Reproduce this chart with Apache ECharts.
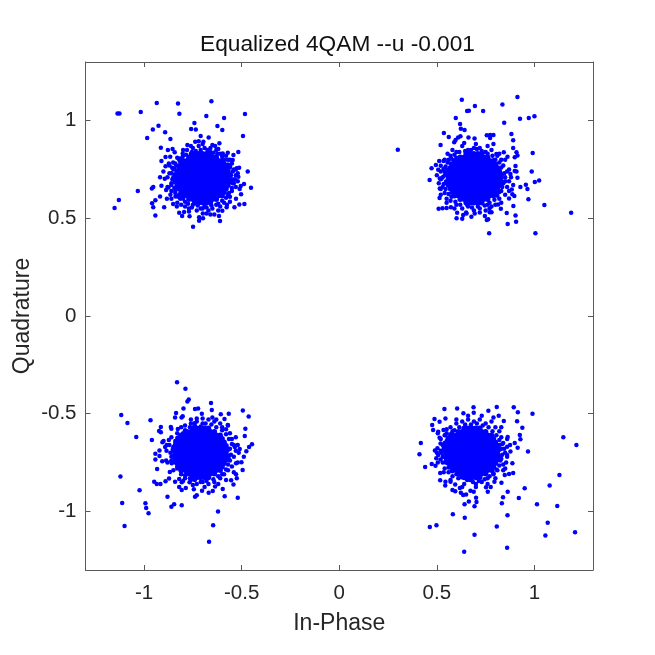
<!DOCTYPE html>
<html><head><meta charset="utf-8">
<style>html,body{margin:0;padding:0;background:#fff}#c{width:655px;height:655px}</style>
<script src="https://cdn.jsdelivr.net/npm/echarts@6/dist/echarts.min.js"></script>
</head><body><div id="c"></div>
<script>
const titleText = 'Equalized 4QAM --u -0.001';
const xName = 'In-Phase';
const yName = 'Quadrature';
const tickValues = [-1, -0.5, 0, 0.5, 1];
const axisLimit = 1.3;

// Individually visible points.
const topLeftPoints = [[-1.136,1.037],[-1.126,1.036],[-1.017,1.044],[-.935,1.09],[-.826,1.087],[-.819,1.035],[-.655,1.099],[-.681,1.024],[-.59,1.013],[-.483,1.034],[-.742,.988],[-.759,.957],[-.735,.955],[-.624,.972],[-.599,.952],[-.926,.974],[-.955,.954],[-.892,.94],[-.984,.911],[-.865,.906],[-.71,.921],[-.669,.914],[-.493,.921],[-.914,.861],[-.878,.85],[-.854,.855],[-.843,.838],[-.89,.814],[-.866,.815],[-.911,.793],[-.873,.78],[-.851,.785],[-.89,.766],[-.856,.759],[-.901,.74],[-.469,.739],[-.918,.71],[-.894,.703],[-.452,.657],[-1.032,.64],[-.96,.653],[-.953,.66],[-.911,.667],[-1.129,.594],[-1.151,.553],[-.959,.577],[-.953,.556],[-.942,.592],[-.897,.556],[-.942,.515],[-.918,.611],[-.883,.6],[-.749,.457],[-.718,.505],[-.718,.488],[-.698,.5],[-.611,.486],[-.616,.512],[-.64,.52],[-.66,.52],[-.699,.524],[-.767,.51],[-.805,.512],[-.82,.529],[-.795,.532],[-.832,.56],[-.851,.573],[-.839,.611],[-.865,.621],[-.887,.645],[-.875,.658],[-.537,.556],[-.512,.571],[-.486,.573],[-.577,.556],[-.599,.539],[-.503,.623],[-.529,.6],[-.488,.676],[-.505,.665],[-.517,.713],[-.513,.759],[-.525,.756],[-.517,.839],[-.542,.824],[-.546,.798],[-.571,.836],[-.597,.832],[-.614,.884],[-.636,.87],[-.696,.892],[-.738,.892],[-.778,.875],[-.802,.832],[-.824,.807],[-.815,.773],
[-.78,.85],[-.75,.86],[-.72,.87],[-.69,.86],[-.66,.86],[-.63,.85],[-.7,.88],[-.76,.83],[-.66,.84],[-.61,.83],[-.57,.8],[-.55,.78],[-.54,.75],[-.53,.72],[-.55,.7],[-.54,.68],[-.53,.66],[-.55,.64],[-.56,.61],[-.57,.62],[-.52,.69],[-.56,.76],[-.59,.58],[-.61,.56],[-.63,.57],[-.65,.55],[-.67,.54],[-.69,.56],[-.71,.55],[-.73,.54],[-.75,.57],[-.77,.55],[-.79,.56],[-.8,.6],[-.82,.62],[-.84,.64],[-.83,.66],[-.86,.68],[-.85,.71],[-.87,.73],[-.85,.75],[-.84,.78],[-.82,.8],[-.8,.82],[-.83,.58],[-.86,.64],
[-.555,.72],[-.545,.74],[-.56,.765],[-.57,.775],[-.585,.8],[-.6,.815],[-.625,.83],[-.645,.835],[-.675,.85],[-.71,.85],[-.735,.845],[-.755,.84],[-.785,.825],[-.805,.81],[-.815,.79],[-.835,.77],[-.845,.755],[-.86,.73],[-.855,.7],[-.86,.67],[-.845,.655],[-.84,.63],[-.825,.61],[-.815,.6],[-.79,.585],[-.775,.575],[-.755,.555],[-.725,.565],[-.7,.55],[-.68,.555],[-.655,.565],[-.62,.575],[-.6,.59],[-.58,.605],[-.565,.63],[-.55,.655],[-.545,.68],[-.535,.7],[-.575,.57],[-.82,.765],
[-.53,.75],[-.52,.73],[-.56,.8],[-.58,.82],[-.62,.855],[-.65,.875],[-.72,.895],[-.76,.87],[-.8,.85],[-.83,.81],[-.87,.77],[-.88,.71],[-.88,.66],[-.86,.6],[-.81,.57],[-.77,.535],[-.68,.525],[-.62,.54],[-.56,.585],[-.51,.65]];

const topRightPoints = [[.3,.851],[.628,1.107],[.913,1.121],[.695,1.075],[.655,1.049],[.664,1.051],[.737,1.049],[.836,1.083],[.926,1.01],[.971,1.013],[1,1.022],[.597,1.013],[.845,.989],[.619,.983],[.623,.959],[.642,.952],[.536,.937],[.561,.916],[.519,.875],[.621,.92],[.609,.914],[.596,.901],[.589,.889],[.662,.913],[.693,.908],[.756,.925],[.773,.926],[.79,.926],[.773,.911],[.882,.931],[.891,.899],[.891,.86],[.79,.88],[.991,.834],[.908,.838],[.913,.822],[.899,.812],[.843,.838],[.805,.829],[.862,.815],[.555,.831],[.512,.793],[.534,.793],[.495,.773],[.52,.769],[.473,.756],[.507,.749],[.534,.752],[.463,.696],[.986,.74],[.903,.768],[.899,.742],[.908,.74],[.877,.727],[.913,.708],[1.024,.693],[1.002,.686],[.956,.672],[.928,.66],[.964,.65],[.969,.597],[1.051,.568],[1.188,.529],[.892,.563],[.897,.614],[.858,.527],[.903,.515],[.906,.483],[.863,.471],[1.005,.423],[.768,.423],[.756,.491],[.763,.495],[.746,.512],[.771,.531],[.78,.531],[.514,.604],[.509,.549],[.529,.551],[.55,.553],[.572,.556],[.601,.5],[.63,.498],[.652,.525],[.677,.508],[.694,.525],[.604,.529],[.635,.517],[.87,.602],[.887,.623],[.891,.67],[.884,.648],[.515,.653],[.524,.704],[.515,.704],[.828,.549],[.814,.571],
[.6,.84],[.63,.87],[.66,.85],[.69,.86],[.72,.86],[.75,.84],[.78,.85],[.81,.82],[.57,.82],[.6,.81],[.83,.8],[.84,.77],[.86,.74],[.85,.71],[.84,.68],[.86,.66],[.83,.64],[.85,.62],[.82,.6],[.8,.57],[.78,.56],[.75,.54],[.72,.55],[.69,.54],[.66,.56],[.63,.55],[.6,.57],[.57,.59],[.55,.6],[.54,.63],[.53,.66],[.55,.68],[.52,.7],[.54,.72],[.55,.75],[.57,.78],[.52,.65],[.56,.8],
[.54,.74],[.545,.765],[.555,.785],[.575,.805],[.59,.825],[.615,.84],[.645,.845],[.675,.85],[.705,.855],[.73,.845],[.76,.83],[.785,.82],[.8,.8],[.82,.785],[.83,.76],[.845,.73],[.83,.705],[.85,.69],[.835,.66],[.82,.635],[.81,.615],[.795,.595],[.77,.58],[.745,.565],[.71,.56],[.68,.555],[.655,.57],[.62,.57],[.595,.585],[.575,.61],[.56,.625],[.545,.65],[.535,.675],[.53,.71],[.52,.74],[.76,.57],
[.5,.72],[.51,.68],[.52,.62],[.55,.58],[.59,.55],[.65,.53],[.72,.53],[.77,.55],[.83,.58],[.87,.64],[.87,.69],[.87,.75],[.85,.8],[.82,.83],[.76,.87],[.7,.88],[.64,.885],[.58,.85],[.54,.8],[.88,.71]];

const bottomLeftPoints = [[-.831,-.339],[-.788,-.372],[-.778,-.437],[-.771,-.428],[-.657,-.445],[-.798,-.474],[-.739,-.476],[-.723,-.474],[-.836,-.496],[-.841,-.52],[-.802,-.513],[-.808,-.52],[-1.117,-.507],[-1.085,-.548],[-.967,-.534],[-.494,-.484],[-.464,-.515],[-.566,-.5],[-.607,-.503],[-.653,-.481],[-.704,-.5],[-.588,-.527],[-.481,-.577],[-.484,-.614],[-.571,-.558],[-.73,-.524],[-.742,-.549],[-.914,-.568],[-.923,-.589],[-.914,-.595],[-.863,-.568],[-.86,-.577],[-.827,-.578],[-1.04,-.619],[-.96,-.635],[-.9,-.64],[-.906,-.646],[-.873,-.635],[-.884,-.66],[-.892,-.67],[-.447,-.657],[-.462,-.67],[-.476,-.692],[-.489,-.72],[-.51,-.681],[-.501,-.749],[-.495,-.788],[-.529,-.754],[-.921,-.689],[-.942,-.705],[-.921,-.716],[-.942,-.735],[-.907,-.744],[-.887,-.739],[-.933,-.783],[-.868,-.798],[-.858,-.754],[-.861,-.742],[-1.121,-.822],[-.948,-.848],[-.935,-.86],[-.916,-.86],[-.872,-.832],[-.89,-.846],[-1.023,-.892],[-1.112,-.957],[-.993,-.959],[-.989,-.983],[-.977,-1.01],[-1.1,-1.075],[-.88,-.925],[-.86,-.976],[-.846,-.964],[-.807,-.969],[-.739,-.925],[-.73,-.918],[-.82,-.875],[-.807,-.89],[-.786,-.88],[-.841,-.848],[-.82,-.834],[-.807,-.851],[-.703,-.894],[-.669,-.904],[-.648,-.896],[-.745,-.887],[-.767,-.851],[-.597,-.885],[-.587,-.923],[-.52,-.93],[-.542,-.863],[-.554,-.841],[-.525,-.831],[-.529,-.81],[-.621,-1],[-.646,-1.071],[-.667,-1.155],[-.636,-.873],
[-.79,-.56],[-.76,-.55],[-.73,-.54],[-.7,-.55],[-.67,-.53],[-.64,-.54],[-.61,-.55],[-.58,-.58],[-.6,-.57],[-.65,-.52],[-.56,-.6],[-.55,-.63],[-.54,-.66],[-.53,-.69],[-.54,-.72],[-.56,-.74],[-.55,-.77],[-.57,-.79],[-.59,-.81],[-.61,-.83],[-.64,-.85],[-.67,-.86],[-.7,-.85],[-.73,-.86],[-.76,-.84],[-.79,-.83],[-.81,-.81],[-.83,-.78],[-.84,-.75],[-.86,-.72],[-.85,-.69],[-.87,-.66],[-.84,-.64],[-.82,-.62],[-.8,-.6],[-.83,-.6],
[-.56,-.68],[-.555,-.71],[-.565,-.735],[-.57,-.76],[-.58,-.785],[-.6,-.81],[-.62,-.82],[-.645,-.835],[-.68,-.845],[-.71,-.85],[-.74,-.84],[-.765,-.83],[-.79,-.815],[-.81,-.795],[-.83,-.77],[-.845,-.745],[-.85,-.715],[-.865,-.7],[-.85,-.67],[-.84,-.65],[-.83,-.625],[-.81,-.61],[-.79,-.585],[-.765,-.57],[-.74,-.56],[-.71,-.565],[-.685,-.55],[-.655,-.555],[-.63,-.57],[-.6,-.585],[-.58,-.605],[-.565,-.63],[-.55,-.655],[-.535,-.67],
[-.515,-.7],[-.52,-.75],[-.54,-.8],[-.58,-.84],[-.62,-.86],[-.69,-.875],[-.75,-.865],[-.8,-.845],[-.85,-.79],[-.88,-.75],[-.885,-.69],[-.86,-.62],[-.81,-.57],[-.76,-.53],[-.7,-.525],[-.63,-.53],[-.57,-.56],[-.53,-.62],[-.52,-.66]];

const bottomRightPoints = [[.539,-.476],[.604,-.473],[.688,-.467],[.807,-.466],[.894,-.467],[.915,-.493],[.99,-.5],[.764,-.485],[.689,-.495],[.636,-.498],[.817,-.51],[.488,-.527],[.544,-.525],[.514,-.541],[.476,-.558],[.481,-.583],[.843,-.537],[.911,-.539],[.938,-.572],[.507,-.592],[.505,-.6],[.534,-.583],[.925,-.609],[.928,-.631],[.863,-.619],[1.148,-.621],[1.215,-.66],[.418,-.65],[.411,-.708],[.44,-.773],[.474,-.757],[.493,-.766],[.967,-.693],[.914,-.674],[.899,-.65],[.514,-.623],[.519,-.653],[.49,-.689],[.503,-.677],[.507,-.711],[.524,-.699],[.497,-.728],[.519,-.734],[.517,-.803],[.517,-.841],[.544,-.848],[.543,-.868],[.57,-.848],[.594,-.863],[.58,-.89],[.594,-.897],[.618,-.88],[.623,-.904],[.635,-.916],[.65,-.914],[.672,-.894],[.689,-.899],[.642,-.964],[.664,-.95],[.693,-.974],[.703,-.952],[.701,-.93],[.582,-1.015],[.643,-1.032],[.464,-1.08],[.498,-1.071],[.693,-1.119],[.64,-1.206],[.807,-1.078],[.86,-1.186],[.862,-1.02],[.833,-.959],[.839,-.928],[.863,-.899],[.92,-.931],[.95,-.882],[1.013,-.964],[1.117,-.972],[1.078,-.868],[1.128,-.814],[1.068,-1.058],[1.056,-1.124],[1.208,-1.107],[.761,-.899],[.776,-.875],[.752,-.877],[.795,-.848],[.831,-.853],[.848,-.814],[.87,-.809],[.891,-.803],[.887,-.754],[.85,-.78],[.877,-.694],[.86,-.711],[.86,-.669],
[.6,-.55],[.63,-.54],[.66,-.53],[.69,-.54],[.72,-.53],[.75,-.55],[.78,-.54],[.8,-.57],[.57,-.57],[.55,-.6],[.82,-.59],[.83,-.62],[.84,-.65],[.82,-.66],[.85,-.7],[.83,-.73],[.84,-.76],[.81,-.79],[.79,-.81],[.76,-.83],[.73,-.85],[.7,-.86],[.67,-.84],[.64,-.86],[.61,-.83],[.58,-.82],[.56,-.8],[.54,-.78],[.53,-.75],[.54,-.72],[.52,-.69],[.53,-.66],[.55,-.64],[.54,-.61],[.56,-.62],[.58,-.59],
[.83,-.68],[.835,-.71],[.825,-.74],[.82,-.765],[.805,-.785],[.79,-.805],[.77,-.82],[.745,-.835],[.715,-.845],[.685,-.85],[.655,-.84],[.625,-.825],[.6,-.81],[.58,-.795],[.56,-.775],[.545,-.75],[.53,-.72],[.525,-.7],[.535,-.675],[.54,-.65],[.555,-.625],[.57,-.605],[.59,-.585],[.615,-.57],[.645,-.555],[.675,-.555],[.705,-.55],[.735,-.56],[.765,-.57],[.785,-.59],[.805,-.61],[.82,-.635],[.835,-.655],[.845,-.68],
[.86,-.72],[.855,-.75],[.84,-.79],[.8,-.83],[.76,-.86],[.7,-.875],[.63,-.875],[.57,-.84],[.535,-.8],[.505,-.75],[.5,-.7],[.52,-.63],[.55,-.58],[.6,-.53],[.66,-.51],[.73,-.51],[.79,-.52],[.83,-.57],[.86,-.63],[.875,-.66]];

// The dense centres cannot be read point by point; they are estimated as [y, [x...]] rows.
const topLeftCore = [
[.831,[-.74,-.72,-.70,-.68,-.66]],
[.813,[-.77,-.75,-.73,-.71,-.69,-.67,-.65,-.63]],
[.795,[-.80,-.78,-.76,-.74,-.72,-.70,-.68,-.66,-.64,-.62,-.60]],
[.777,[-.81,-.79,-.77,-.75,-.73,-.71,-.69,-.67,-.65,-.63,-.61,-.59]],
[.759,[-.82,-.80,-.78,-.76,-.74,-.72,-.70,-.68,-.66,-.64,-.62,-.60,-.58]],
[.741,[-.83,-.81,-.79,-.77,-.75,-.73,-.71,-.69,-.67,-.65,-.63,-.61,-.59,-.57]],
[.723,[-.84,-.82,-.80,-.78,-.76,-.74,-.72,-.70,-.68,-.66,-.64,-.62,-.60,-.58,-.56]],
[.705,[-.83,-.81,-.79,-.77,-.75,-.73,-.71,-.69,-.67,-.65,-.63,-.61,-.59,-.57]],
[.687,[-.84,-.82,-.80,-.78,-.76,-.74,-.72,-.70,-.68,-.66,-.64,-.62,-.60,-.58,-.56]],
[.669,[-.83,-.81,-.79,-.77,-.75,-.73,-.71,-.69,-.67,-.65,-.63,-.61,-.59,-.57]],
[.651,[-.82,-.80,-.78,-.76,-.74,-.72,-.70,-.68,-.66,-.64,-.62,-.60,-.58]],
[.633,[-.81,-.79,-.77,-.75,-.73,-.71,-.69,-.67,-.65,-.63,-.61,-.59]],
[.615,[-.80,-.78,-.76,-.74,-.72,-.70,-.68,-.66,-.64,-.62,-.60]],
[.597,[-.77,-.75,-.73,-.71,-.69,-.67,-.65,-.63]],
[.579,[-.74,-.72,-.70,-.68,-.66]]];

const topRightCore = [
[.831,[.65,.67,.69,.71,.73]],
[.813,[.62,.64,.66,.68,.70,.72,.74,.76]],
[.795,[.59,.61,.63,.65,.67,.69,.71,.73,.75,.77,.79]],
[.777,[.58,.60,.62,.64,.66,.68,.70,.72,.74,.76,.78,.80]],
[.759,[.57,.59,.61,.63,.65,.67,.69,.71,.73,.75,.77,.79,.81]],
[.741,[.56,.58,.60,.62,.64,.66,.68,.70,.72,.74,.76,.78,.80,.82]],
[.723,[.55,.57,.59,.61,.63,.65,.67,.69,.71,.73,.75,.77,.79,.81,.83]],
[.705,[.56,.58,.60,.62,.64,.66,.68,.70,.72,.74,.76,.78,.80,.82]],
[.687,[.55,.57,.59,.61,.63,.65,.67,.69,.71,.73,.75,.77,.79,.81,.83]],
[.669,[.56,.58,.60,.62,.64,.66,.68,.70,.72,.74,.76,.78,.80,.82]],
[.651,[.57,.59,.61,.63,.65,.67,.69,.71,.73,.75,.77,.79,.81]],
[.633,[.58,.60,.62,.64,.66,.68,.70,.72,.74,.76,.78,.80]],
[.615,[.59,.61,.63,.65,.67,.69,.71,.73,.75,.77,.79]],
[.597,[.62,.64,.66,.68,.70,.72,.74,.76]],
[.579,[.65,.67,.69,.71,.73]]];

const bottomLeftCore = [
[-.574,[-.75,-.73,-.71,-.69,-.67]],
[-.592,[-.78,-.76,-.74,-.72,-.70,-.68,-.66,-.64]],
[-.61,[-.81,-.79,-.77,-.75,-.73,-.71,-.69,-.67,-.65,-.63,-.61]],
[-.628,[-.82,-.80,-.78,-.76,-.74,-.72,-.70,-.68,-.66,-.64,-.62,-.60]],
[-.646,[-.83,-.81,-.79,-.77,-.75,-.73,-.71,-.69,-.67,-.65,-.63,-.61,-.59]],
[-.664,[-.84,-.82,-.80,-.78,-.76,-.74,-.72,-.70,-.68,-.66,-.64,-.62,-.60,-.58]],
[-.682,[-.85,-.83,-.81,-.79,-.77,-.75,-.73,-.71,-.69,-.67,-.65,-.63,-.61,-.59,-.57]],
[-.70,[-.84,-.82,-.80,-.78,-.76,-.74,-.72,-.70,-.68,-.66,-.64,-.62,-.60,-.58]],
[-.718,[-.85,-.83,-.81,-.79,-.77,-.75,-.73,-.71,-.69,-.67,-.65,-.63,-.61,-.59,-.57]],
[-.736,[-.84,-.82,-.80,-.78,-.76,-.74,-.72,-.70,-.68,-.66,-.64,-.62,-.60,-.58]],
[-.754,[-.83,-.81,-.79,-.77,-.75,-.73,-.71,-.69,-.67,-.65,-.63,-.61,-.59]],
[-.772,[-.82,-.80,-.78,-.76,-.74,-.72,-.70,-.68,-.66,-.64,-.62,-.60]],
[-.79,[-.81,-.79,-.77,-.75,-.73,-.71,-.69,-.67,-.65,-.63,-.61]],
[-.808,[-.78,-.76,-.74,-.72,-.70,-.68,-.66,-.64]],
[-.826,[-.75,-.73,-.71,-.69,-.67]]];

const bottomRightCore = [
[-.574,[.64,.66,.68,.70,.72]],
[-.592,[.61,.63,.65,.67,.69,.71,.73,.75]],
[-.61,[.58,.60,.62,.64,.66,.68,.70,.72,.74,.76,.78]],
[-.628,[.57,.59,.61,.63,.65,.67,.69,.71,.73,.75,.77,.79]],
[-.646,[.56,.58,.60,.62,.64,.66,.68,.70,.72,.74,.76,.78,.80]],
[-.664,[.55,.57,.59,.61,.63,.65,.67,.69,.71,.73,.75,.77,.79,.81]],
[-.682,[.54,.56,.58,.60,.62,.64,.66,.68,.70,.72,.74,.76,.78,.80,.82]],
[-.70,[.55,.57,.59,.61,.63,.65,.67,.69,.71,.73,.75,.77,.79,.81]],
[-.718,[.54,.56,.58,.60,.62,.64,.66,.68,.70,.72,.74,.76,.78,.80,.82]],
[-.736,[.55,.57,.59,.61,.63,.65,.67,.69,.71,.73,.75,.77,.79,.81]],
[-.754,[.56,.58,.60,.62,.64,.66,.68,.70,.72,.74,.76,.78,.80]],
[-.772,[.57,.59,.61,.63,.65,.67,.69,.71,.73,.75,.77,.79]],
[-.79,[.58,.60,.62,.64,.66,.68,.70,.72,.74,.76,.78]],
[-.808,[.61,.63,.65,.67,.69,.71,.73,.75]],
[-.826,[.64,.66,.68,.70,.72]]];

const expandRows = rows => rows.flatMap(([y, xs]) => xs.map(x => [x, y]));
const scatterPoints = [...topLeftPoints, ...topRightPoints, ...bottomLeftPoints, ...bottomRightPoints];
const corePoints = [
  ...expandRows(topLeftCore), ...expandRows(topRightCore),
  ...expandRows(bottomLeftCore), ...expandRows(bottomRightCore)
];

const inkColor = '#262626';
const lineColor = '#595959';
const fontFamily = '"Liberation Sans", Arial, sans-serif';
const valueAxis = (extra) => Object.assign({
  type: 'value', min: -axisLimit, max: axisLimit,
  splitLine: { show: false },
  axisLine: { show: true, onZero: false, lineStyle: { color: lineColor, width: 1 } },
  axisTick: { show: true, inside: true, length: 5, customValues: tickValues, lineStyle: { color: lineColor, width: 1 } },
  nameLocation: 'middle',
  nameTextStyle: { color: inkColor, fontSize: 23, fontFamily }
}, extra);
const tickLabels = (margin) => ({ show: true, customValues: tickValues, color: inkColor, fontSize: 20.5, fontFamily, margin });

const chart = echarts.init(document.getElementById('c'), null, { renderer: 'canvas' });
chart.setOption({
  animation: false,
  backgroundColor: '#ffffff',
  title: { text: titleText, left: 332.5, top: 28, textAlign: 'center',
    textStyle: { color: '#111111', fontSize: 22.7, fontWeight: 'normal', fontFamily } },
  grid: { left: 85.5, top: 62, width: 507.5, height: 508, outerBoundsMode: 'none' },
  xAxis: [
    valueAxis({ position: 'bottom', name: xName, nameGap: 42, axisLabel: tickLabels(13) }),
    valueAxis({ position: 'top', axisLabel: { show: false } })
  ],
  yAxis: [
    valueAxis({ position: 'left', name: yName, nameGap: 51, nameMoveOverlap: false, axisLabel: tickLabels(9) }),
    valueAxis({ position: 'right', axisLabel: { show: false } })
  ],
  series: [
    { type: 'scatter', data: scatterPoints, symbol: 'circle', symbolSize: 4.5, itemStyle: { color: '#0000ff', opacity: 1 } },
    { type: 'scatter', data: corePoints, symbol: 'circle', symbolSize: 5.5, itemStyle: { color: '#0000ff', opacity: 1 } }
  ]
});
</script></body></html>
